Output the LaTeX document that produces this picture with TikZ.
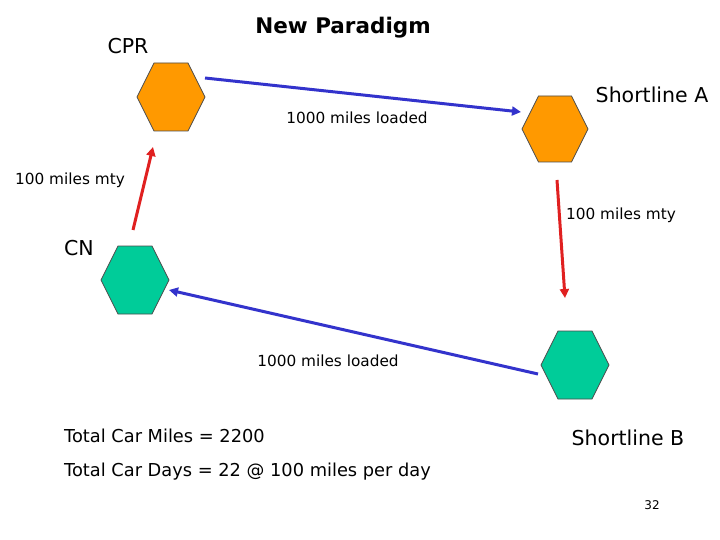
\documentclass[tikz,border=0pt]{standalone}
\usepackage{fontspec}
\setmainfont{DejaVu Sans}
\usetikzlibrary{arrows.meta}
\definecolor{org}{HTML}{FF9900}
\definecolor{grn}{HTML}{00CC99}
\definecolor{blu}{HTML}{3333CC}
\definecolor{rd}{HTML}{E02020}
\tikzset{
  hexo/.style={fill=org,draw=black!70,line width=0.8pt},
  hexg/.style={fill=grn,draw=black!70,line width=0.8pt},
  barrow/.style={draw=blu,line width=3pt,-{Triangle[length=9pt,width=9pt]}},
  rarrow/.style={draw=rd,line width=3pt,-{Triangle[length=9pt,width=9pt]}},
  big/.style={font=\fontsize{20.5}{24}\selectfont,inner sep=0},
  mid/.style={font=\fontsize{15.3}{18}\selectfont,inner sep=0},
  tot/.style={font=\fontsize{17.8}{20}\selectfont,inner sep=0,anchor=west}
}
\newcommand{\hexa}[6]{% style, name, cx, cy, halfw, halfh
  \draw[#1] (#3-#5,#4) -- (#3-#5/2,#4-#6) -- (#3+#5/2,#4-#6) -- (#3+#5,#4) -- (#3+#5/2,#4+#6) -- (#3-#5/2,#4+#6) -- cycle;
  \coordinate (#2) at (#3,#4);}
\begin{document}
\begin{tikzpicture}[x=1pt,y=-1pt]
\useasboundingbox[fill=white] (0,0) rectangle (720,540);
\hexa{hexo}{cpr}{171}{97}{34}{34}
\hexa{hexo}{sla}{555}{129}{33}{33}
\hexa{hexg}{cn}{135}{280}{34}{34}
\hexa{hexg}{slb}{575}{365}{34}{34}
\coordinate (a1) at (205,78); \coordinate (a2) at (521,112);
\coordinate (b1) at (133,230); \coordinate (b2) at (153,147);
\coordinate (c1) at (557,180); \coordinate (c2) at (565,298);
\coordinate (d1) at (538,374); \coordinate (d2) at (169,290);
\draw[barrow] (a1) -- (a2);
\draw[rarrow] (b1) -- (b2);
\draw[rarrow] (c1) -- (c2);
\draw[barrow] (d1) -- (d2);
\node[big] (t1) at (128,46) {CPR};
\node[big,font=\fontsize{21.5}{25}\selectfont\bfseries] (t2) at (343,28) {New Paradigm};
\node[mid] (t3) at (357,118) {1000 miles loaded};
\node[big] (t4) at (652,95) {Shortline A};
\node[mid] (t5) at (70,180) {100 miles mty};
\node[mid] (t6) at (621,215) {100 miles mty};
\node[big] (t7) at (79,248) {CN};
\node[mid] (t8) at (328,361) {1000 miles loaded};
\node[tot] (t9) at (64,436) {Total Car Miles = 2200};
\node[big] (t10) at (628,438) {Shortline B};
\node[tot] (t11) at (64,472) {Total Car Days = 22 @ 100 miles per day};
\node[font=\fontsize{12}{14}\selectfont,inner sep=0] (t12) at (652,505) {32};
\end{tikzpicture}
\end{document}
